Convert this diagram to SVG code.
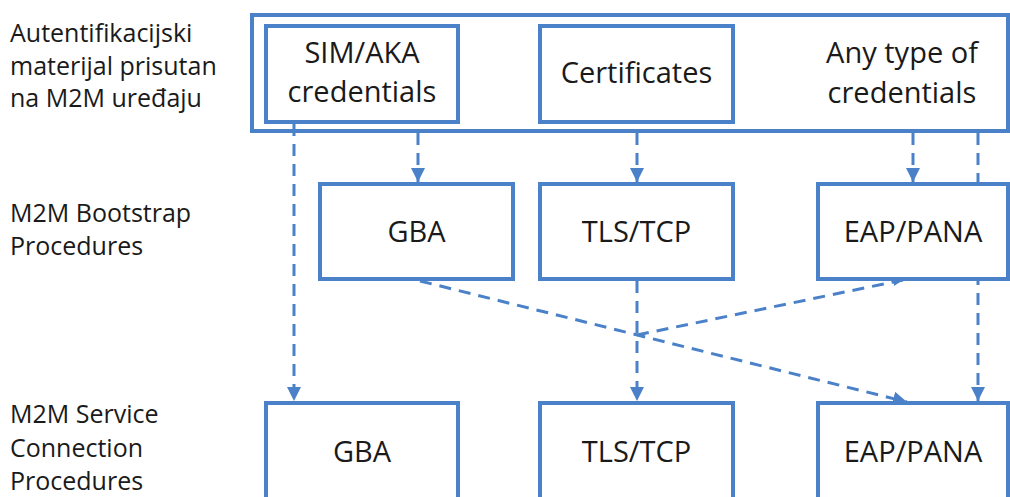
<svg xmlns="http://www.w3.org/2000/svg" width="1010" height="497" viewBox="0 0 1010 497">
<style>
.box{fill:#fff;stroke:#4a81c8;stroke-width:4}
.frame{fill:none;stroke:#4a81c8;stroke-width:4}
.t{font-family:"Open Sans","Liberation Sans",sans-serif;font-size:29px;fill:#1a1a1a;text-anchor:middle}
.lab{font-family:"Open Sans","Liberation Sans",sans-serif;font-size:25px;fill:#1a1a1a}
.c{stroke:#4a81c8;stroke-width:3;stroke-dasharray:12 8;fill:none}
</style>
<defs>
<marker id="ah" markerUnits="userSpaceOnUse" markerWidth="14" markerHeight="16" viewBox="0 0 14 16" refX="14" refY="8" orient="auto">
<path d="M0,1 L14,8 L0,15 Z" fill="#4a81c8"/>
</marker>
<marker id="ahs" markerUnits="userSpaceOnUse" markerWidth="10" markerHeight="10" viewBox="0 0 10 10" refX="10" refY="5" orient="auto">
<path d="M0,1 L10,5 L0,9 Z" fill="#4a81c8"/>
</marker>
</defs>
<rect width="1010" height="497" fill="#fff"/>
<g id="labels">
<text class="lab" x="10" y="42">Autentifikacijski</text>
<text class="lab" x="10" y="75">materijal prisutan</text>
<text class="lab" x="10" y="107">na M2M uređaju</text>
<text class="lab" x="10" y="222">M2M Bootstrap</text>
<text class="lab" x="10" y="255">Procedures</text>
<text class="lab" x="10" y="423">M2M Service</text>
<text class="lab" x="10" y="457">Connection</text>
<text class="lab" x="10" y="490">Procedures</text>
</g>
<g id="connectors">
<line class="c" x1="294" y1="124" x2="294" y2="401" marker-end="url(#ah)"/>
<line class="c" x1="418" y1="133" x2="418" y2="182" marker-end="url(#ah)"/>
<line class="c" x1="637" y1="133" x2="637" y2="182" marker-end="url(#ah)"/>
<line class="c" x1="913" y1="133" x2="913" y2="182" marker-end="url(#ah)"/>
<line class="c" x1="978" y1="133" x2="978" y2="401" marker-end="url(#ah)"/>
<line class="c" x1="637" y1="281" x2="637" y2="401" marker-end="url(#ah)"/>
<line class="c" x1="420" y1="281" x2="907" y2="402" marker-end="url(#ah)"/>
<line class="c" x1="637" y1="335" x2="903" y2="280" marker-end="url(#ahs)"/>
</g>
<g id="credentials-frame">
<rect class="frame" x="252" y="15" width="756" height="116"/>
</g>
<g id="sim-aka">
<rect class="box" x="266" y="26" width="192" height="96"/>
<text class="t" x="362" y="63">SIM/AKA</text>
<text class="t" x="362" y="102">credentials</text>
</g>
<g id="certificates">
<rect class="box" x="540" y="26" width="193" height="96"/>
<text class="t" x="636.5" y="83">Certificates</text>
</g>
<g id="any-type">
<text class="t" x="902" y="63">Any type of</text>
<text class="t" x="902" y="103">credentials</text>
</g>
<g id="bootstrap-gba">
<rect class="box" x="320" y="184" width="193" height="95"/>
<text class="t" x="416.5" y="242">GBA</text>
</g>
<g id="bootstrap-tls">
<rect class="box" x="540" y="184" width="193" height="95"/>
<text class="t" x="636.5" y="242">TLS/TCP</text>
</g>
<g id="bootstrap-eap">
<rect class="box" x="818" y="184" width="190" height="95"/>
<text class="t" x="913" y="242">EAP/PANA</text>
</g>
<g id="service-gba">
<rect class="box" x="266" y="403" width="192" height="100"/>
<text class="t" x="362" y="462">GBA</text>
</g>
<g id="service-tls">
<rect class="box" x="540" y="403" width="193" height="100"/>
<text class="t" x="636.5" y="462">TLS/TCP</text>
</g>
<g id="service-eap">
<rect class="box" x="818" y="403" width="190" height="100"/>
<text class="t" x="913" y="462">EAP/PANA</text>
</g>
</svg>
